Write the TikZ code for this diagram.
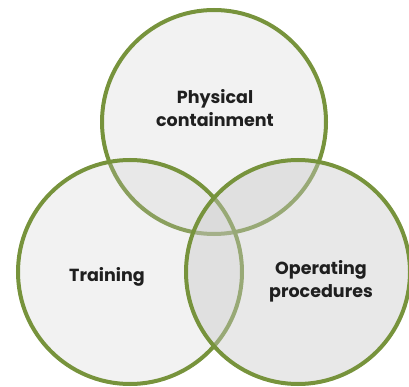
\documentclass[tikz,border=0pt]{standalone}
\usepackage{fontspec}
\setmainfont{Poppins}
\usetikzlibrary{positioning}
\definecolor{olive}{HTML}{77933C}
\definecolor{shade}{HTML}{C8C8C8}

\begin{document}
\begin{tikzpicture}[x=1pt,y=-1pt,
	venn/.style={shape=circle,draw=olive,line width=4pt,fill=shade,minimum size=224pt,inner sep=0pt},
	caption/.style={font=\bfseries\fontsize{17.5}{23}\selectfont,text=black!88,align=center}]
	\useasboundingbox (0,0) rectangle (409,387);
	\node (physical) [venn,fill opacity=0.24] at (214,122) {};
	\node (training) [venn,fill opacity=0.24] at (130,272) {};
	\node (operating) [venn,fill opacity=0.42] at (298,272) {};

	\node (physicaltext) [caption] at (215,108) {Physical\\containment};
	\node (trainingtext) [caption] at (107,277) {Training};
	\node (operatingtext) [caption] at (321,281) {Operating\\procedures};
\end{tikzpicture}
\end{document}
